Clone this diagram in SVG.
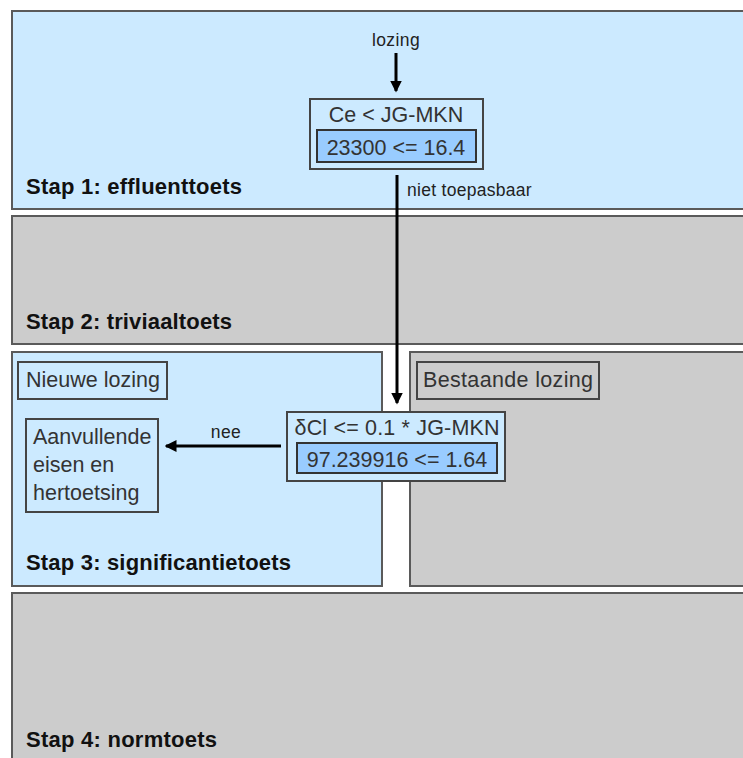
<svg xmlns="http://www.w3.org/2000/svg" width="743" height="758" viewBox="0 0 743 758">
<defs>
<style>
.pb{fill:#cceaff;stroke:#5a5a5a;stroke-width:2}
.pg{fill:#cccccc;stroke:#5a5a5a;stroke-width:2}
.box{fill:#cceaff;stroke:#444;stroke-width:2}
.inner{fill:#99ccff;stroke:#333;stroke-width:2}
.lbl{fill:none;stroke:#444;stroke-width:2}
.t{font-family:"Liberation Sans",Arial,sans-serif;font-size:21.5px;fill:#333}
.st{font-family:"Liberation Sans",Arial,sans-serif;font-size:22px;font-weight:bold;fill:#111}
.sm{font-family:"Liberation Sans",Arial,sans-serif;font-size:17.5px;fill:#222;letter-spacing:0.4px}
.conn{stroke:#000;stroke-width:3;fill:none}
</style>
<marker id="ah" markerWidth="4" markerHeight="4" refX="3.5" refY="2" orient="auto" markerUnits="strokeWidth">
<path d="M0,0 L4,2 L0,4 Z" fill="#000"/>
</marker>
</defs>
<rect width="743" height="758" fill="#ffffff"/>
<g id="stap1">
<rect class="pb" x="12" y="11" width="740" height="198"/>
<text class="st" x="26" y="194" textLength="216">Stap 1: effluenttoets</text>
</g>
<g id="stap2">
<rect class="pg" x="12" y="216" width="740" height="128"/>
<text class="st" x="26" y="329" textLength="206">Stap 2: triviaaltoets</text>
</g>
<g id="stap3-nieuw">
<rect class="pb" x="12" y="352" width="370" height="234"/>
<text class="st" x="26" y="570" textLength="265">Stap 3: significantietoets</text>
</g>
<g id="stap3-bestaand">
<rect class="pg" x="410" y="352" width="342" height="234"/>
</g>
<g id="stap4">
<rect class="pg" x="12" y="593" width="740" height="180" stroke="#333"/>
<text class="st" x="26" y="747" textLength="191">Stap 4: normtoets</text>
</g>
<g id="nieuwe-lozing">
<rect class="lbl" x="18" y="362" width="149" height="37"/>
<text class="t" x="26" y="387" textLength="134">Nieuwe lozing</text>
</g>
<g id="bestaande-lozing">
<rect class="lbl" x="417" y="362" width="182" height="37"/>
<text class="t" x="423" y="387" textLength="170">Bestaande lozing</text>
</g>
<g id="aanvullende">
<rect class="lbl" x="26" y="419" width="132" height="93"/>
<text class="t" x="33" y="444">Aanvullende</text>
<text class="t" x="33" y="472">eisen en</text>
<text class="t" x="33" y="500">hertoetsing</text>
</g>
<g id="ce-test">
<rect class="box" x="310" y="99" width="173" height="70"/>
<text class="t" x="396" y="122" text-anchor="middle" font-size="22">Ce &lt; JG-MKN</text>
<rect class="inner" x="317" y="130" width="159" height="32"/>
<text class="t" x="396" y="155" text-anchor="middle" font-size="22">23300 &lt;= 16.4</text>
</g>
<g id="dcl-test">
<rect class="box" x="287" y="412" width="218" height="69"/>
<text class="t" x="397" y="435" text-anchor="middle" textLength="205" font-size="22">δCl &lt;= 0.1 * JG-MKN</text>
<rect class="inner" x="297" y="443" width="200" height="30"/>
<text class="t" x="397" y="467" text-anchor="middle" font-size="22">97.239916 &lt;= 1.64</text>
</g>
<g id="connectors">
<line class="conn" x1="396" y1="53" x2="396" y2="91" marker-end="url(#ah)"/>
<text class="sm" x="396" y="46" text-anchor="middle">lozing</text>
<line class="conn" x1="397" y1="175" x2="397" y2="403" marker-end="url(#ah)"/>
<text class="sm" x="407" y="196" textLength="125">niet toepasbaar</text>
<line class="conn" x1="281" y1="446" x2="166" y2="446" marker-end="url(#ah)"/>
<text class="sm" x="226" y="438" text-anchor="middle">nee</text>
</g>
</svg>
